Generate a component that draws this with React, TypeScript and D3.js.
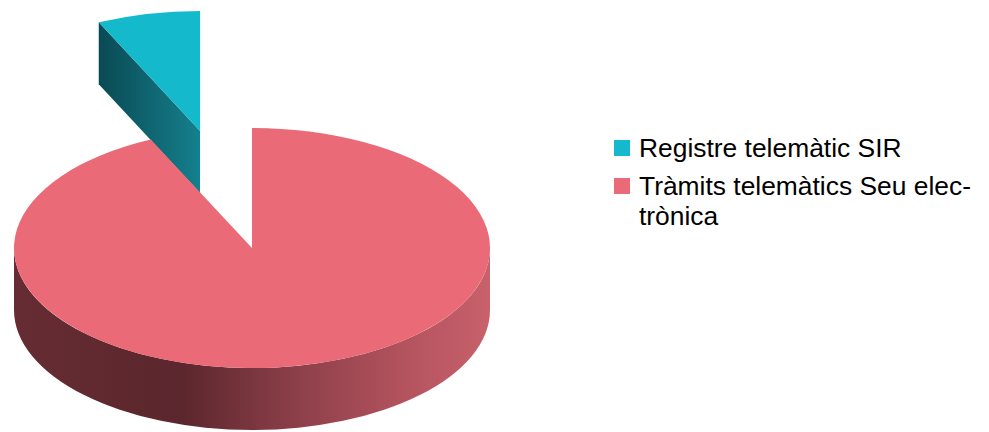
import React from "react";
import * as d3 from "d3";

const categories = ["Registre telemàtic SIR", "Tràmits telemàtics Seu electrònica"];
const values = [7, 93];
const legendLines = [["Registre telemàtic SIR"], ["Tràmits telemàtics Seu elec-", "trònica"]];
const topColors = ["#14b9cc", "#ea6b77"];

const W = 989, H = 432;
const cx = 252, cy = 248, rx = 238, ry = 120, depth = 62;
const explode = [1, 0];

function pt(a: number, ox: number, oy: number, dy = 0): [number, number] {
  return [ox + rx * Math.sin(a), oy - ry * Math.cos(a) + dy];
}

export default function App() {
  const pie = d3.pie<number>().sort(null).startAngle(0).endAngle(-2 * Math.PI);
  const arcs = pie(values);

  const slices = arcs.map((a, i) => {
    const mid = (a.startAngle + a.endAngle) / 2;
    const ox = cx + explode[i] * rx * Math.sin(mid);
    const oy = cy - explode[i] * ry * Math.cos(mid);
    const s = a.startAngle, e = a.endAngle;
    const p0 = pt(s, ox, oy);
    const p1 = pt(e, ox, oy);
    const large = Math.abs(s - e) > Math.PI ? 1 : 0;
    const top = `M${ox},${oy} L${p0[0]},${p0[1]} A${rx},${ry} 0 ${large} 0 ${p1[0]},${p1[1]} Z`;
    return { i, ox, oy, s, e, top, mid };
  });

  const [teal, pink] = slices;
  const te = pt(teal.e, teal.ox, teal.oy);
  const tealFace = `M${teal.ox},${teal.oy} L${te[0]},${te[1]} L${te[0]},${te[1] + depth} L${teal.ox},${teal.oy + depth} Z`;

  const r0 = pt(Math.PI / 2, pink.ox, pink.oy);
  const l0 = pt((3 * Math.PI) / 2, pink.ox, pink.oy);
  const wall = `M${r0[0]},${r0[1]} A${rx},${ry} 0 0 1 ${l0[0]},${l0[1]} L${l0[0]},${l0[1] + depth} A${rx},${ry} 0 0 0 ${r0[0]},${r0[1] + depth} Z`;

  const legendX = 614, legendTop = [140, 178];
  const font = "'Liberation Sans', Arial, sans-serif";

  return (
    <svg width={W} height={H} style={{ position: "absolute", left: 0, top: 0, background: "#fff" }}>
      <defs>
        <linearGradient id="pinkWall" gradientUnits="userSpaceOnUse" x1={cx - rx} y1={0} x2={cx + rx} y2={0}>
          <stop offset="0" stopColor="#662c33" />
          <stop offset="0.35" stopColor="#5b262d" />
          <stop offset="0.6" stopColor="#8e404a" />
          <stop offset="0.82" stopColor="#b3535e" />
          <stop offset="1" stopColor="#c8616c" />
        </linearGradient>
        <linearGradient id="tealFace" gradientUnits="userSpaceOnUse" x1={te[0]} y1={0} x2={teal.ox} y2={0}>
          <stop offset="0" stopColor="#0a4a54" />
          <stop offset="1" stopColor="#14808d" />
        </linearGradient>
      </defs>
      <path d={tealFace} fill="url(#tealFace)" />
      <path d={teal.top} fill={topColors[0]} />
      <path d={wall} fill="url(#pinkWall)" />
      <path d={pink.top} fill={topColors[1]} />
      {categories.map((c, i) => (
        <g key={c}>
          <rect x={legendX} y={legendTop[i]} width={16} height={16} fill={topColors[i]} />
          {legendLines[i].map((ln, j) => (
            <text key={j} x={639} y={legendTop[i] + 17 + j * 30} fontFamily={font} fontSize={26.4} fill="#000">
              {ln}
            </text>
          ))}
        </g>
      ))}
    </svg>
  );
}
